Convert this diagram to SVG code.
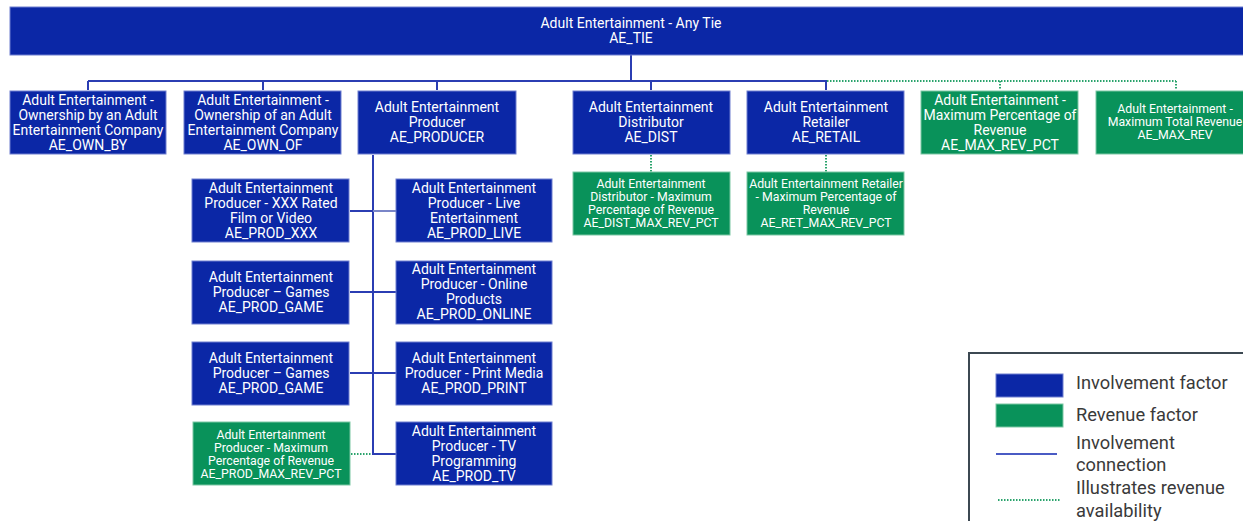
<svg xmlns="http://www.w3.org/2000/svg" width="1243" height="521" viewBox="0 0 1243 521">
<style>
.inv{fill:#0b27a6;stroke:#6f7fd0;stroke-width:1}
.rev{fill:#09925a;stroke:#7cc7a4;stroke-width:1}
text{font-family:Roboto,"Liberation Sans",sans-serif;fill:#ffffff;text-anchor:middle}
.t13{font-size:14px}
.t12{font-size:12.3px}
.conn{stroke:#2b3db3;stroke-width:2;fill:none}
.dot{stroke:#2aa36c;stroke-width:2;fill:none;stroke-dasharray:1.5 1.5}
.leg{font-size:18.3px;fill:#3a3a3a;text-anchor:start}
</style>
<rect width="1243" height="521" fill="#ffffff"/>
<g id="connectors">
<path class="conn" d="M631,55 V81 M88,81 H827 M88,81 V90 M263,81 V90 M437,81 V90 M651,81 V90 M826,81 V90"/>
<path class="dot" d="M827,81 H1176 M1000,81 V90 M1176,81 V90"/>
<path class="dot" d="M651,155 V172 M826,155 V172"/>
<path class="conn" d="M373,155 V454 H396"/>
<path class="conn" d="M350,211 H373"/>
<path d="M373,211 H396" stroke="#7a86c8" stroke-width="2"/>
<path class="conn" d="M350,292 H396 M350,373 H396"/>
<path class="dot" d="M351,454 H372"/>
</g>
<g id="AE_TIE">
<rect class="inv" x="10" y="7" width="1240" height="48"/>
<text class="t13" x="631" y="28">Adult Entertainment - Any Tie</text>
<text class="t13" x="631" y="43">AE_TIE</text>
</g>
<g id="AE_OWN_BY">
<rect class="inv" x="10" y="91" width="156" height="63"/>
<text class="t13" x="88" y="105">Adult Entertainment -</text>
<text class="t13" x="88" y="120">Ownership by an Adult</text>
<text class="t13" x="88" y="135">Entertainment Company</text>
<text class="t13" x="88" y="150">AE_OWN_BY</text>
</g>
<g id="AE_OWN_OF">
<rect class="inv" x="184" y="91" width="157" height="63"/>
<text class="t13" x="263" y="105">Adult Entertainment -</text>
<text class="t13" x="263" y="120">Ownership of an Adult</text>
<text class="t13" x="263" y="135">Entertainment Company</text>
<text class="t13" x="263" y="150">AE_OWN_OF</text>
</g>
<g id="AE_PRODUCER">
<rect class="inv" x="358" y="91" width="158" height="63"/>
<text class="t13" x="437" y="112">Adult Entertainment</text>
<text class="t13" x="437" y="127">Producer</text>
<text class="t13" x="437" y="142">AE_PRODUCER</text>
</g>
<g id="AE_DIST">
<rect class="inv" x="573" y="91" width="157" height="63"/>
<text class="t13" x="651" y="112">Adult Entertainment</text>
<text class="t13" x="651" y="127">Distributor</text>
<text class="t13" x="651" y="142">AE_DIST</text>
</g>
<g id="AE_RETAIL">
<rect class="inv" x="747" y="91" width="157" height="63"/>
<text class="t13" x="826" y="112">Adult Entertainment</text>
<text class="t13" x="826" y="127">Retailer</text>
<text class="t13" x="826" y="142">AE_RETAIL</text>
</g>
<g id="AE_MAX_REV_PCT">
<rect class="rev" x="921" y="91" width="157" height="63"/>
<text class="t13" x="1000" y="105">Adult Entertainment -</text>
<text class="t13" x="1000" y="120">Maximum Percentage of</text>
<text class="t13" x="1000" y="135">Revenue</text>
<text class="t13" x="1000" y="150">AE_MAX_REV_PCT</text>
</g>
<g id="AE_MAX_REV">
<rect class="rev" x="1096" y="91" width="158" height="63"/>
<text class="t12" x="1175" y="113">Adult Entertainment -</text>
<text class="t12" x="1175" y="126">Maximum Total Revenue</text>
<text class="t12" x="1175" y="139">AE_MAX_REV</text>
</g>
<g id="AE_DIST_MAX_REV_PCT">
<rect class="rev" x="573" y="172" width="157" height="63"/>
<text class="t12" x="651" y="188">Adult Entertainment</text>
<text class="t12" x="651" y="201">Distributor - Maximum</text>
<text class="t12" x="651" y="214">Percentage of Revenue</text>
<text class="t12" x="651" y="227">AE_DIST_MAX_REV_PCT</text>
</g>
<g id="AE_RET_MAX_REV_PCT">
<rect class="rev" x="747" y="172" width="157" height="63"/>
<text class="t12" x="826" y="188">Adult Entertainment Retailer</text>
<text class="t12" x="826" y="201">- Maximum Percentage of</text>
<text class="t12" x="826" y="214">Revenue</text>
<text class="t12" x="826" y="227">AE_RET_MAX_REV_PCT</text>
</g>
<g id="AE_PROD_XXX">
<rect class="inv" x="192" y="179" width="157" height="63"/>
<text class="t13" x="271" y="193">Adult Entertainment</text>
<text class="t13" x="271" y="208">Producer - XXX Rated</text>
<text class="t13" x="271" y="223">Film or Video</text>
<text class="t13" x="271" y="238">AE_PROD_XXX</text>
</g>
<g id="AE_PROD_LIVE">
<rect class="inv" x="396" y="179" width="156" height="63"/>
<text class="t13" x="474" y="193">Adult Entertainment</text>
<text class="t13" x="474" y="208">Producer - Live</text>
<text class="t13" x="474" y="223">Entertainment</text>
<text class="t13" x="474" y="238">AE_PROD_LIVE</text>
</g>
<g id="AE_PROD_GAME">
<rect class="inv" x="192" y="261" width="157" height="63"/>
<text class="t13" x="271" y="282">Adult Entertainment</text>
<text class="t13" x="271" y="297">Producer – Games</text>
<text class="t13" x="271" y="312">AE_PROD_GAME</text>
</g>
<g id="AE_PROD_ONLINE">
<rect class="inv" x="396" y="261" width="156" height="63"/>
<text class="t13" x="474" y="274">Adult Entertainment</text>
<text class="t13" x="474" y="289">Producer - Online</text>
<text class="t13" x="474" y="304">Products</text>
<text class="t13" x="474" y="319">AE_PROD_ONLINE</text>
</g>
<g id="AE_PROD_GAME_2">
<rect class="inv" x="192" y="342" width="157" height="63"/>
<text class="t13" x="271" y="363">Adult Entertainment</text>
<text class="t13" x="271" y="378">Producer – Games</text>
<text class="t13" x="271" y="393">AE_PROD_GAME</text>
</g>
<g id="AE_PROD_PRINT">
<rect class="inv" x="396" y="342" width="156" height="63"/>
<text class="t13" x="474" y="363">Adult Entertainment</text>
<text class="t13" x="474" y="378">Producer - Print Media</text>
<text class="t13" x="474" y="393">AE_PROD_PRINT</text>
</g>
<g id="AE_PROD_MAX_REV_PCT">
<rect class="rev" x="193" y="422" width="157" height="63"/>
<text class="t12" x="271" y="439">Adult Entertainment</text>
<text class="t12" x="271" y="452">Producer - Maximum</text>
<text class="t12" x="271" y="465">Percentage of Revenue</text>
<text class="t12" x="271" y="478">AE_PROD_MAX_REV_PCT</text>
</g>
<g id="AE_PROD_TV">
<rect class="inv" x="396" y="422" width="156" height="63"/>
<text class="t13" x="474" y="436">Adult Entertainment</text>
<text class="t13" x="474" y="451">Producer - TV</text>
<text class="t13" x="474" y="466">Programming</text>
<text class="t13" x="474" y="481">AE_PROD_TV</text>
</g>
<g id="legend">
<rect x="969" y="353" width="300" height="200" fill="#ffffff" stroke="#3c4852" stroke-width="2"/>
<rect x="996" y="374" width="67" height="23" fill="#0b27a6" stroke="#6f7fd0" stroke-width="1"/>
<rect x="996" y="404" width="67" height="23" fill="#09925a" stroke="#7cc7a4" stroke-width="1"/>
<line x1="996" y1="454" x2="1057" y2="454" stroke="#4a5bc4" stroke-width="2"/>
<line x1="998" y1="500" x2="1060" y2="500" stroke="#2aa36c" stroke-width="2" stroke-dasharray="1.5 1.5"/>
<text class="leg" x="1076" y="389">Involvement factor</text>
<text class="leg" x="1076" y="421">Revenue factor</text>
<text class="leg" x="1076" y="449">Involvement</text>
<text class="leg" x="1076" y="471">connection</text>
<text class="leg" x="1076" y="494">Illustrates revenue</text>
<text class="leg" x="1076" y="517">availability</text>
</g>
</svg>
